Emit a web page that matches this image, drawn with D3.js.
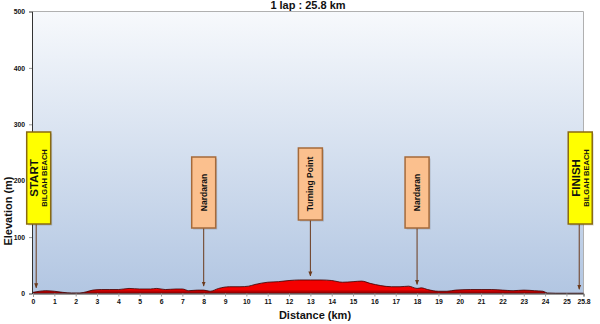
<!DOCTYPE html>
<html><head><meta charset="utf-8">
<script src="https://cdn.jsdelivr.net/npm/d3@7"></script>
<style>body{margin:0;background:#fff}svg{display:block}</style>
</head><body>
<svg id="c" width="600" height="324"></svg>
<script>
const title = "1 lap : 25.8 km";
const xLabel = "Distance (km)";
const yLabel = "Elevation (m)";
const xTicks = [0,1,2,3,4,5,6,7,8,9,10,11,12,13,14,15,16,17,18,19,20,21,22,23,24,25,25.8];
const yTicks = [0,100,200,300,400,500];
const distKm = [0,0.3,0.6,1.0,1.4,1.8,2.2,2.5,2.8,3.2,3.6,4.0,4.5,5.0,5.5,5.8,6.2,6.7,7.0,7.3,7.7,8.0,8.3,8.7,9.2,9.7,10.1,10.4,11.0,11.5,12.0,12.5,13.0,13.5,14.0,14.5,15.0,15.4,15.8,16.3,16.8,17.2,17.6,18.0,18.2,18.5,19.0,19.4,19.8,20.5,21.0,21.5,22.0,22.5,23.0,23.5,23.9,24.1,24.5,25.0,25.5,25.8];
const elevM  = [2,4,5,4,2,1,1,3,6,7,7,7,9,8,8,9,7,8,8,5,6,6,4,9,12,12,13,16,20,21,23,24,24,24,23,20,21,22,18,14,12,12,13,9,10,7,4,4,6,7,7,7,6,5,6,5,4,1,0.5,0.5,0.5,0.5];
const markerKm = [0.15, 8, 13, 18, 25.6];
const markerMain = ["START", "", "", "", "FINISH"];
const markerSub  = ["BILGAH BEACH", "Nardaran", "Turning Point", "Nardaran", "BILGAH BEACH"];
const markerKind = ["end", "mid", "mid", "mid", "end"];

const svg = d3.select("#c");
const L = 32, R = 583.5, T = 11.5, B = 293.5;
const x = d3.scaleLinear().domain([0, 25.8]).range([33, R]);
const y = d3.scaleLinear().domain([0, 500]).range([B, T]);

const defs = svg.append("defs");
const bg = defs.append("linearGradient").attr("id","bg").attr("x1",0).attr("y1",0).attr("x2",0).attr("y2",1);
bg.append("stop").attr("offset","0%").attr("stop-color","#f7f9fc");
bg.append("stop").attr("offset","100%").attr("stop-color","#b2c6e2");
const rg = defs.append("linearGradient").attr("id","rg").attr("gradientUnits","userSpaceOnUse")
  .attr("x1",0).attr("x2",0).attr("y1",y(0)).attr("y2",y(7));
rg.append("stop").attr("offset","0%").attr("stop-color","#7a0000");
rg.append("stop").attr("offset","100%").attr("stop-color","#f40000");
defs.append("marker").attr("id","ah").attr("viewBox","0 0 10 10").attr("refX",9).attr("refY",5)
  .attr("markerWidth",5).attr("markerHeight",5).attr("orient","auto")
  .append("path").attr("d","M0,1 L10,5 L0,9 Z").attr("fill","#6b3a1c");

svg.append("rect").attr("x",L).attr("y",T).attr("width",R-L).attr("height",B-T).attr("fill","url(#bg)");
svg.append("path").attr("d",`M${L},${T}H${R}V${B}`).attr("fill","none").attr("stroke","#b0b0b0").attr("stroke-width",1);

const pts = distKm.map((d,i)=>[d, elevM[i]]);
svg.append("path").datum(pts)
  .attr("d", d3.area().x(d=>x(d[0])).y0(y(0)).y1(d=>y(d[1])).curve(d3.curveMonotoneX))
  .attr("fill","url(#rg)");
svg.append("path").datum(pts)
  .attr("d", d3.line().x(d=>x(d[0])).y(d=>y(d[1])).curve(d3.curveMonotoneX))
  .attr("fill","none").attr("stroke","#3a0000").attr("stroke-width",0.8);

const yAx = svg.append("g").attr("transform",`translate(${L},0)`)
  .call(d3.axisLeft(y).tickValues(yTicks).tickSize(3).tickPadding(4));
const xAx = svg.append("g").attr("transform",`translate(0,${B})`)
  .call(d3.axisBottom(x).tickValues(xTicks).tickSize(3).tickPadding(3).tickFormat(d=>String(d)));
[yAx,xAx].forEach(g=>{
  g.select(".domain").attr("stroke","#333");
  g.selectAll(".tick line").attr("stroke","#999");
  g.selectAll("text").attr("font-family","Liberation Sans, Arial").attr("font-size",6.8).attr("font-weight","bold").attr("fill","#111");
});

svg.append("text").attr("x",308).attr("y",8.5).attr("text-anchor","middle")
  .attr("font-family","Liberation Sans, Arial").attr("font-weight","bold").attr("font-size",11).attr("fill","#111").text(title);
svg.append("text").attr("x",315).attr("y",319).attr("text-anchor","middle")
  .attr("font-family","Liberation Sans, Arial").attr("font-weight","bold").attr("font-size",11).attr("fill","#111").text(xLabel);
svg.append("text").attr("transform","translate(12,211) rotate(-90)").attr("text-anchor","middle")
  .attr("font-family","Liberation Sans, Arial").attr("font-weight","bold").attr("font-size",11).attr("fill","#111").text(yLabel);

const elevAt = km => { const i = d3.bisectLeft(distKm, km); if (i<=0) return elevM[0];
  const a=distKm[i-1], b=distKm[i]; return elevM[i-1] + (elevM[i]-elevM[i-1])*(km-a)/(b-a); };

const boxW = 24;
const style = {
  end: {top:132, bot:224, fill:"#ffff00", stroke:"#8a6a10"},
  mid: {top:157, bot:228, fill:"#fbc08e", stroke:"#a56a3a"}
};
markerKm.forEach((km,i)=>{
  const st = Object.assign({}, style[markerKind[i]]);
  if (markerSub[i]==="Turning Point") { st.top=148; st.bot=220; }
  const ax = x(km);
  let cx = ax;
  if (i===0) cx = ax + 2.5;
  if (i===markerKm.length-1) cx = ax + 1;
  const g = svg.append("g");
  g.append("line").attr("x1",ax).attr("x2",ax).attr("y1",st.bot).attr("y2",y(elevAt(km))-4)
    .attr("stroke","#6b3a1c").attr("stroke-width",1).attr("marker-end","url(#ah)");
  g.append("rect").attr("x",cx-boxW/2+1.5).attr("y",st.top+1.5).attr("width",boxW).attr("height",st.bot-st.top)
    .attr("fill","#000").attr("opacity",0.15);
  g.append("rect").attr("x",cx-boxW/2).attr("y",st.top).attr("width",boxW).attr("height",st.bot-st.top)
    .attr("fill",st.fill).attr("stroke",st.stroke).attr("stroke-width",1.5);
  const cy = (st.top+st.bot)/2;
  if (markerMain[i]) {
    g.append("text").attr("transform",`translate(${cx-4.5},${cy}) rotate(-90)`).attr("text-anchor","middle")
      .attr("dominant-baseline","central").attr("font-family","Liberation Sans, Arial").attr("font-weight","bold")
      .attr("font-size",11.5).attr("fill","#111").text(markerMain[i]);
    g.append("text").attr("transform",`translate(${cx+6},${cy}) rotate(-90)`).attr("text-anchor","middle")
      .attr("dominant-baseline","central").attr("font-family","Liberation Sans, Arial").attr("font-weight","bold")
      .attr("font-size",7.5).attr("fill","#111").text(markerSub[i]);
  } else {
    g.append("text").attr("transform",`translate(${cx},${cy}) rotate(-90)`).attr("text-anchor","middle")
      .attr("dominant-baseline","central").attr("font-family","Liberation Sans, Arial").attr("font-weight","bold")
      .attr("font-size",8.5).attr("fill","#111").text(markerSub[i]);
  }
});
</script>
</body></html>
